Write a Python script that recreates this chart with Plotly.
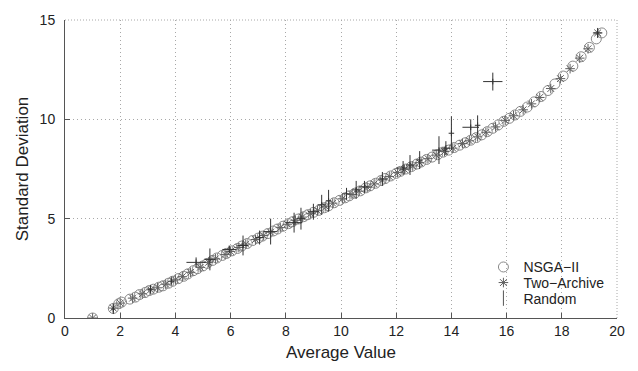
import plotly.graph_objects as go

# NSGA-II (open circles)
nsga_x = [1.00, 1.75, 1.95, 2.05, 2.35, 2.55, 2.70, 2.90, 3.05, 3.20, 3.40, 3.55, 3.75, 3.90,
          4.10, 4.30, 4.45, 4.65, 4.80, 5.00, 5.15, 5.35, 5.50, 5.70, 5.85, 6.05, 6.25, 6.40,
          6.60, 6.80, 7.00, 7.15, 7.35, 7.55, 7.70, 7.90, 8.10, 8.25, 8.45, 8.65, 8.80, 9.00,
          9.20, 9.40, 9.55, 9.75, 9.95, 10.15, 10.30, 10.50, 10.70, 10.90, 11.05, 11.25, 11.45,
          11.60, 11.80, 12.00, 12.15, 12.35, 12.55, 12.75, 12.90, 13.10, 13.30, 13.50, 13.70,
          13.90, 14.10, 14.30, 14.50, 14.70, 14.90, 15.10, 15.30, 15.50, 15.70, 15.90, 16.10,
          16.30, 16.50, 16.75, 17.00, 17.25, 17.50, 17.75, 18.05, 18.40, 18.70, 19.00, 19.25, 19.45]
nsga_y = [0.00, 0.48, 0.72, 0.80, 0.95, 1.05, 1.18, 1.28, 1.38, 1.45, 1.55, 1.62, 1.75, 1.85,
          1.98, 2.10, 2.22, 2.38, 2.48, 2.62, 2.75, 2.90, 3.02, 3.15, 3.25, 3.38, 3.50, 3.62,
          3.75, 3.90, 4.02, 4.12, 4.25, 4.38, 4.48, 4.62, 4.75, 4.85, 4.98, 5.10, 5.20, 5.32,
          5.42, 5.55, 5.65, 5.80, 5.92, 6.05, 6.15, 6.28, 6.40, 6.55, 6.65, 6.78, 6.92,
          7.02, 7.15, 7.28, 7.38, 7.50, 7.62, 7.75, 7.85, 7.98, 8.10, 8.22, 8.35,
          8.45, 8.58, 8.70, 8.82, 8.95, 9.08, 9.22, 9.38, 9.55, 9.72, 9.90, 10.05,
          10.22, 10.40, 10.62, 10.88, 11.15, 11.45, 11.78, 12.18, 12.68, 13.15, 13.62, 14.05, 14.35]

# Two-Archive (asterisks)
two_x = [1.00, 1.75, 2.00, 2.45, 2.80, 3.10, 3.35, 3.65, 4.00, 4.25, 4.55, 4.90, 5.20, 5.45,
         5.80, 6.00, 6.30, 6.55, 6.90, 7.20, 7.45, 7.80, 8.05, 8.35, 8.60, 8.90, 9.15, 9.45,
         9.70, 10.05, 10.40, 10.65, 10.95, 11.20, 11.50, 11.75, 12.05, 12.30, 12.60, 12.85,
         13.15, 13.45, 13.75, 14.05, 14.40, 14.65, 14.95, 15.25, 15.60, 15.95, 16.25, 16.60,
         16.90, 17.20, 17.60, 17.95, 18.30, 18.65, 18.95, 19.30]
two_y = [0.00, 0.50, 0.75, 1.00, 1.22, 1.42, 1.52, 1.70, 1.92, 2.08, 2.30, 2.55, 2.80, 2.98,
         3.20, 3.35, 3.55, 3.72, 3.95, 4.15, 4.32, 4.55, 4.72, 4.92, 5.08, 5.25, 5.40, 5.60,
         5.78, 6.00, 6.22, 6.38, 6.58, 6.75, 6.95, 7.12, 7.32, 7.48, 7.65, 7.82,
         8.02, 8.20, 8.38, 8.55, 8.78, 8.92, 9.12, 9.35, 9.62, 9.95, 10.18, 10.48,
         10.78, 11.10, 11.55, 12.05, 12.55, 13.08, 13.55, 14.35]

# Random (crosses: mean with spread in x and y)
rnd_x = [1.75, 3.10, 3.85, 4.75, 5.25, 5.95, 6.45, 7.05, 7.45, 8.30, 8.55, 9.00, 9.30, 9.55,
         10.20, 10.55, 10.85, 11.50, 12.25, 12.50, 12.85, 13.55, 13.80, 14.00, 14.70, 14.95,
         15.50, 19.30]
rnd_y = [0.45, 1.45, 1.85, 2.80, 2.95, 3.45, 3.65, 4.05, 4.35, 4.80, 5.00, 5.35, 5.70, 5.90,
         6.25, 6.45, 6.60, 7.00, 7.55, 7.70, 7.95, 8.45, 8.55, 9.30, 9.60, 9.70,
         11.90, 14.35]
rnd_ex = [0.08, 0.10, 0.10, 0.35, 0.20, 0.25, 0.20, 0.15, 0.25, 0.30, 0.15, 0.20, 0.15, 0.10,
          0.15, 0.15, 0.20, 0.15, 0.25, 0.15, 0.10, 0.25, 0.15, 0.10, 0.30, 0.10,
          0.35, 0.15]
rnd_ey = [0.25, 0.20, 0.22, 0.25, 0.55, 0.20, 0.50, 0.35, 0.65, 0.50, 0.55, 0.40, 0.50, 0.55,
          0.30, 0.45, 0.30, 0.35, 0.35, 0.50, 0.45, 0.70, 0.35, 0.85, 0.40, 0.50,
          0.45, 0.25]

FONT = "Liberation Sans, Arial, Helvetica, sans-serif"
GRID = "#a8a8a8"
AXIS = "#555555"

fig = go.Figure()

fig.add_trace(go.Scatter(
    x=nsga_x, y=nsga_y, mode="markers", name="NSGA\u2212II", legend="legend",
    marker=dict(symbol="circle-open", size=10, color="#8a8a8a", line=dict(width=1, color="#8a8a8a")),
))
fig.add_trace(go.Scatter(
    x=two_x, y=two_y, mode="markers", name="Two\u2212Archive", legend="legend2",
    marker=dict(symbol="asterisk-open", size=8, color="#606060", line=dict(width=1, color="#606060")),
))
fig.add_trace(go.Scatter(
    x=rnd_x, y=rnd_y, mode="markers", name="Random", showlegend=False,
    marker=dict(symbol="line-ns-open", size=4, color="#333333", line=dict(width=1, color="#333333")),
    error_x=dict(type="data", array=rnd_ex, visible=True, width=0, thickness=1, color="#333333"),
    error_y=dict(type="data", array=rnd_ey, visible=True, width=0, thickness=1, color="#333333"),
))
# legend entry for Random
fig.add_trace(go.Scatter(
    x=[None], y=[None], mode="markers", name="Random", legend="legend3",
    marker=dict(symbol="line-ns-open", size=11, color="#555555", line=dict(width=1, color="#555555")),
))

leg_common = dict(xanchor="left", yanchor="middle", bgcolor="rgba(0,0,0,0)", borderwidth=0,
                  font=dict(family=FONT, size=14, color="#222222"), itemwidth=30)
lx = 0.758
fig.update_layout(
    width=638, height=371,
    margin=dict(l=65, r=21, t=15, b=50),
    paper_bgcolor="white", plot_bgcolor="white",
    font=dict(family=FONT, size=14, color="#222222"),
    showlegend=True,
    legend=dict(x=lx, y=0.1699, **leg_common),
    legend2=dict(x=lx, y=0.1176, **leg_common),
    legend3=dict(x=lx, y=0.0654, **leg_common),
    shapes=[
        dict(type="line", xref="paper", yref="paper", x0=0, x1=1, y0=1, y1=1,
             line=dict(color=GRID, width=1, dash="1px,2px"), layer="below"),
        dict(type="line", xref="paper", yref="paper", x0=1, x1=1, y0=0, y1=1,
             line=dict(color=GRID, width=1, dash="1px,2px"), layer="below"),
    ],
)

fig.update_xaxes(
    range=[0, 20], tickmode="array", tickvals=[0, 2, 4, 6, 8, 10, 12, 14, 16, 18, 20],
    showgrid=True, gridcolor=GRID, griddash="1px,3px", gridwidth=1,
    showline=True, linecolor=AXIS, linewidth=1,
    ticks="inside", ticklen=5, tickcolor=AXIS,
    zeroline=False,
    title=dict(text="Average Value", font=dict(family=FONT, size=17, color="#222222"), standoff=8),
    tickfont=dict(family=FONT, size=14, color="#222222"),
)
fig.update_yaxes(
    range=[0, 15], tickmode="array", tickvals=[0, 5, 10, 15],
    showgrid=True, gridcolor=GRID, griddash="1px,3px", gridwidth=1,
    showline=True, linecolor=AXIS, linewidth=1,
    ticks="inside", ticklen=5, tickcolor=AXIS,
    zeroline=False,
    title=dict(text="Standard Deviation", font=dict(family=FONT, size=17, color="#222222"), standoff=6),
    tickfont=dict(family=FONT, size=14, color="#222222"),
    ticklabelstandoff=6,
)

fig.write_html("out.html")
